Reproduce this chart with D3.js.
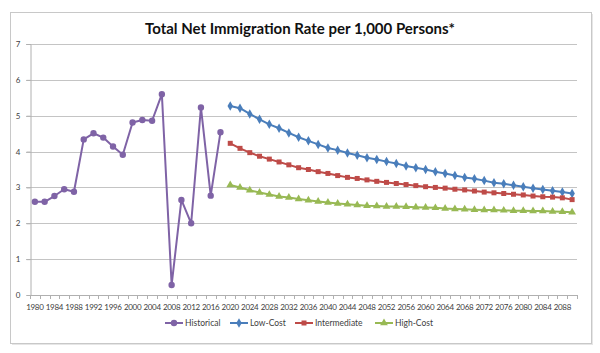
<!DOCTYPE html>
<html>
<head>
<meta charset="utf-8">
<script src="https://cdn.jsdelivr.net/npm/d3@7"></script>
<style>
  body { margin: 0; background: #fff; }
  text { font-family: Lato, "Open Sans", sans-serif; fill: #404040; }
</style>
</head>
<body>
<div id="chart"></div>
<script>

// years on the category axis (every 2 years)
const years = d3.range(1980, 2092, 2);
const tickYears = d3.range(1980, 2092, 4);

const histYears = d3.range(1980, 2020, 2);
const historical = [2.60, 2.60, 2.76, 2.95, 2.88, 4.34, 4.51, 4.39, 4.14, 3.91,
    4.81, 4.88, 4.86, 5.60, 0.28, 2.65, 2.00, 5.23, 2.77, 4.54];

const projYears = d3.range(2020, 2092, 2);
const lowCost = [5.27, 5.21, 5.05, 4.90, 4.76, 4.65, 4.52, 4.40, 4.30, 4.20,
    4.10, 4.04, 3.96, 3.90, 3.83, 3.78, 3.72, 3.67, 3.60, 3.55,
    3.50, 3.44, 3.39, 3.33, 3.28, 3.24, 3.19, 3.13, 3.10, 3.06,
    3.02, 2.98, 2.94, 2.91, 2.87, 2.83];
const intermediate = [4.23, 4.09, 3.97, 3.87, 3.79, 3.71, 3.63, 3.55, 3.50, 3.44,
    3.39, 3.33, 3.28, 3.25, 3.21, 3.17, 3.14, 3.11, 3.08, 3.05,
    3.02, 3.00, 2.98, 2.95, 2.93, 2.90, 2.87, 2.85, 2.83, 2.81,
    2.79, 2.76, 2.74, 2.73, 2.71, 2.66];
const highCost = [3.07, 3.00, 2.92, 2.86, 2.80, 2.75, 2.72, 2.68, 2.64, 2.61,
    2.58, 2.55, 2.53, 2.51, 2.49, 2.48, 2.47, 2.47, 2.46, 2.45,
    2.44, 2.43, 2.41, 2.40, 2.39, 2.38, 2.37, 2.37, 2.36, 2.35,
    2.35, 2.34, 2.34, 2.33, 2.32, 2.31];

const series = [
    {name: "Historical", years: histYears, values: historical, color: "#7f63a6", symbol: d3.symbolCircle, size: 32},
    {name: "Low-Cost", years: projYears, values: lowCost, color: "#4a7ebb", symbol: d3.symbolDiamond, size: 26},
    {name: "Intermediate", years: projYears, values: intermediate, color: "#be4b48", symbol: d3.symbolSquare, size: 25},
    {name: "High-Cost", years: projYears, values: highCost, color: "#98b954", symbol: d3.symbolTriangle, size: 26}
];

const W = 600, H = 353;
const svg = d3.select("#chart").append("svg")
    .attr("width", W)
    .attr("height", H);

// chart frame with a faint shadow
svg.append("rect")
    .attr("x", 12).attr("y", 14)
    .attr("width", 581).attr("height", 331)
    .attr("fill", "#e6e6e6");
svg.append("rect")
    .attr("x", 10.5).attr("y", 12.5)
    .attr("width", 581).attr("height", 331)
    .attr("fill", "#fff")
    .attr("stroke", "#c8c8c8");

svg.append("text")
    .attr("x", 300).attr("y", 34)
    .attr("text-anchor", "middle")
    .style("font-size", "15px")
    .style("font-weight", "bold")
    .style("fill", "#111")
    .text("Total Net Immigration Rate per 1,000 Persons*");

// scales
const x = d3.scaleBand().domain(years).range([30, 577]);
const y = d3.scaleLinear().domain([0, 7]).range([295, 44]);

// gridlines
svg.append("g")
    .selectAll("line")
    .data(d3.range(1, 8))
    .join("line")
    .attr("x1", 26).attr("x2", 577)
    .attr("y1", d => Math.round(y(d)) + 0.5)
    .attr("y2", d => Math.round(y(d)) + 0.5)
    .attr("stroke", "#c4c4c4");

// y axis
const yAxis = d3.axisLeft(y).ticks(7).tickSize(4).tickPadding(6);
svg.append("g")
    .attr("transform", "translate(30.5,0)")
    .call(yAxis)
    .call(g => g.selectAll("line, path").attr("stroke", "#b0b0b0"))
    .call(g => g.selectAll("text").style("font-size", "8px").style("fill", "#404040"));

// x axis
svg.append("line")
    .attr("x1", 30).attr("x2", 577)
    .attr("y1", 295.5).attr("y2", 295.5)
    .attr("stroke", "#b0b0b0");

svg.append("g")
    .selectAll("line")
    .data(years.concat([2092]))
    .join("line")
    .attr("x1", d => Math.round(d === 2092 ? x.range()[1] : x(d)) + 0.5)
    .attr("x2", d => Math.round(d === 2092 ? x.range()[1] : x(d)) + 0.5)
    .attr("y1", 295).attr("y2", 299)
    .attr("stroke", "#b0b0b0");

svg.append("g")
    .selectAll("text")
    .data(tickYears)
    .join("text")
    .attr("x", d => x(d) + x.bandwidth() / 2)
    .attr("y", 310)
    .attr("text-anchor", "middle")
    .style("font-size", "8px")
    .style("letter-spacing", "-0.3px")
    .text(d => d);

// lines and markers
const line = d3.line()
    .x(d => x(d[0]) + x.bandwidth() / 2)
    .y(d => y(d[1]));

series.forEach(s => {
    const pts = s.years.map((yr, i) => [yr, s.values[i]]);
    svg.append("path")
        .datum(pts)
        .attr("d", line)
        .attr("fill", "none")
        .attr("stroke", s.color)
        .attr("stroke-width", 2)
        .attr("stroke-linejoin", "round");

    svg.append("g")
        .selectAll("path")
        .data(pts)
        .join("path")
        .attr("transform", d => "translate(" + (x(d[0]) + x.bandwidth() / 2) + "," + y(d[1]) + ")")
        .attr("d", d3.symbol().type(s.symbol).size(s.size))
        .attr("fill", s.color);
});

// legend
const legendX = [165, 230, 295, 375];
const legend = svg.append("g");
series.forEach((s, i) => {
    const g = legend.append("g").attr("transform", "translate(" + legendX[i] + ",323)");
    g.append("line")
        .attr("x1", 0).attr("x2", 18)
        .attr("stroke", s.color)
        .attr("stroke-width", 2);
    g.append("path")
        .attr("transform", "translate(9,0)")
        .attr("d", d3.symbol().type(s.symbol).size(s.size))
        .attr("fill", s.color);
    g.append("text")
        .attr("x", 20).attr("y", 3)
        .style("font-size", "8.5px")
        .text(s.name);
});

</script>
</body>
</html>
